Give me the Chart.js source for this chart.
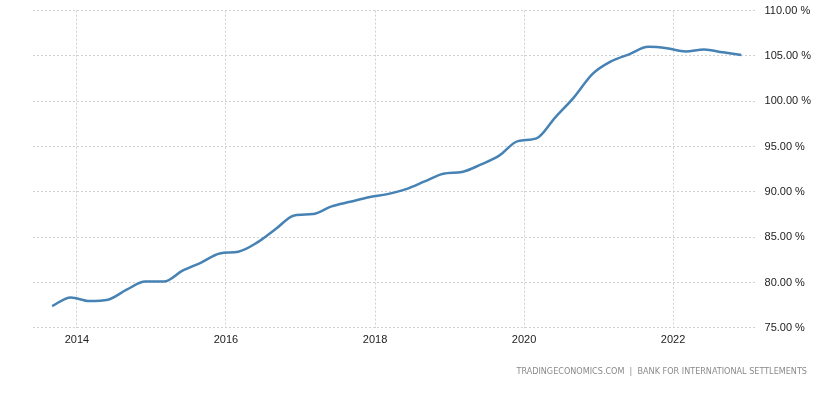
<!DOCTYPE html>
<html>
<head>
<meta charset="utf-8">
<script src="https://cdn.jsdelivr.net/npm/chart.js@4.4.0/dist/chart.umd.min.js"></script>
<style>
  html, body { margin: 0; padding: 0; background: #fff; }
  #wrap { position: relative; width: 831px; height: 402px; overflow: hidden; }
  #c { position: absolute; left: 0; top: -4px; }
  #src { position: absolute; right: 24px; top: 366px; font: 9px "DejaVu Sans Condensed", "DejaVu Sans", sans-serif; color: #8a8a8a; letter-spacing: 0px; white-space: pre; }
</style>
</head>
<body>
<div id="wrap">
  <canvas id="c" width="831" height="406"></canvas>
  <div id="src">TRADINGECONOMICS.COM  |  BANK FOR INTERNATIONAL SETTLEMENTS</div>
</div>
<script>
// Quarterly observations (month = last month plotted for the quarter)
const periods = [
  "2013-08","2013-11","2014-02","2014-05","2014-08","2014-11","2015-02","2015-05","2015-08","2015-11",
  "2016-02","2016-05","2016-08","2016-11","2017-02","2017-05","2017-08","2017-11","2018-02","2018-05",
  "2018-08","2018-11","2019-02","2019-05","2019-08","2019-11","2020-02","2020-05","2020-08","2020-11",
  "2021-02","2021-05","2021-08","2021-11","2022-02","2022-05","2022-08","2022-11"
];
const values = [
  77.4, 78.35, 77.95, 78.1, 79.2, 80.1, 80.1, 81.3, 82.2, 83.2,
  83.4, 84.4, 85.9, 87.4, 87.55, 88.4, 88.9, 89.4, 89.75, 90.3,
  91.15, 92.0, 92.2, 93.0, 94.0, 95.6, 95.9, 98.2, 100.4, 103.0,
  104.4, 105.2, 106.0, 105.85, 105.5, 105.7, 105.4, 105.1
];
const xTickYears = [2014, 2016, 2018, 2020, 2022];
const yTicks = [75, 80, 85, 90, 95, 100, 105, 110];

function toYear(p) {
  const [y, m] = p.split("-").map(Number);
  return y + m / 12;
}
const points = periods.map((p, i) => ({ x: toYear(p), y: values[i] }));

const gridColor = "#d0d0d0";
new Chart(document.getElementById("c"), {
  type: "line",
  data: {
    datasets: [{
      data: points,
      borderColor: "#4682b4",
      borderWidth: 2.5,
      pointRadius: 0,
      tension: 0.4,
      cubicInterpolationMode: "monotone",
      fill: false
    }]
  },
  options: {
    responsive: false,
    animation: false,
    layout: { padding: { left: 33, right: 12, top: 0, bottom: 49 } },
    plugins: { legend: { display: false }, tooltip: { enabled: false } },
    scales: {
      x: {
        type: "linear",
        min: 2013.41,
        max: 2023.12,
        afterBuildTicks: (s) => { s.ticks = xTickYears.map(v => ({ value: v })); },
        ticks: { callback: (v) => String(v), color: "#222", font: { family: "Liberation Sans", size: 11 }, maxRotation: 0, padding: 6 },
        grid: { color: gridColor, drawTicks: false, lineWidth: 1 },
        border: { display: false, dash: [2, 2] }
      },
      y: {
        position: "right",
        min: 75,
        max: 110,
        afterBuildTicks: (s) => { s.ticks = yTicks.map(v => ({ value: v })); },
        ticks: { callback: (v) => v.toFixed(2) + " %", color: "#222", font: { family: "Liberation Sans", size: 11 }, padding: 8 },
        grid: { color: gridColor, drawTicks: false, lineWidth: 1 },
        border: { display: false, dash: [2, 2] }
      }
    }
  }
});
</script>
</body>
</html>
